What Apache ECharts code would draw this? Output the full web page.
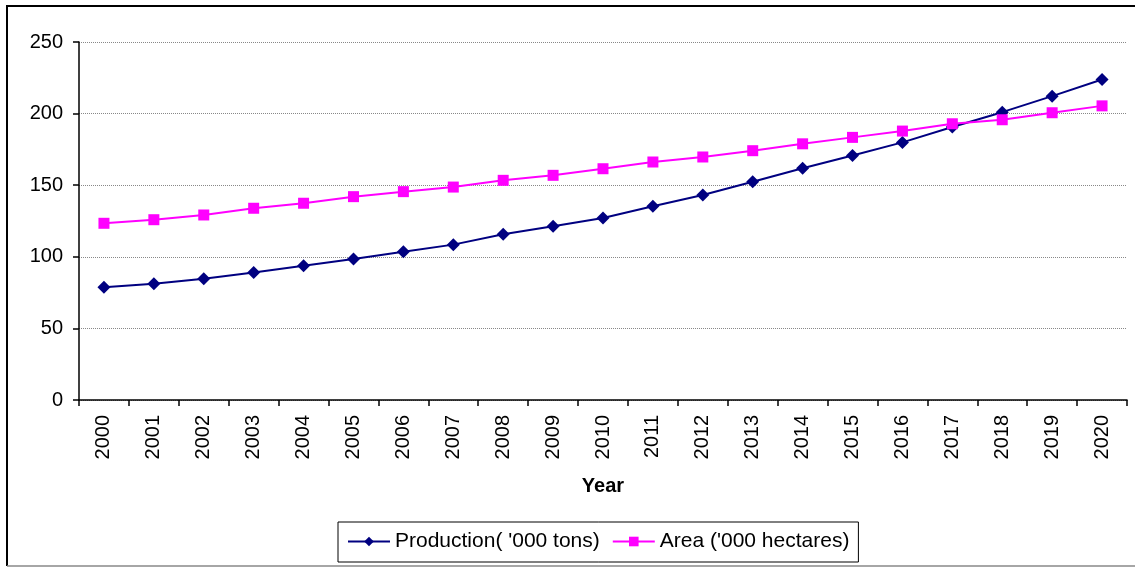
<!DOCTYPE html>
<html>
<head>
<meta charset="utf-8">
<script src="https://cdn.jsdelivr.net/npm/echarts@6/dist/echarts.min.js"></script>
<style>
  html, body { margin: 0; padding: 0; background: #fff; }
  #chart { width: 1135px; height: 567px; }
</style>
</head>
<body>
<div id="chart"></div>
<script>
const years = ['2000','2001','2002','2003','2004','2005','2006','2007','2008','2009','2010',
  '2011','2012','2013','2014','2015','2016','2017','2018','2019','2020'];
const production = [78.8, 81.1, 84.6, 89.0, 93.7, 98.5, 103.6, 108.5, 115.8, 121.3, 127.1,
  135.3, 143.2, 152.4, 161.8, 170.8, 179.9, 190.6, 201.0, 212.2, 223.8];
const area = [123.4, 125.9, 129.2, 133.9, 137.4, 142.0, 145.5, 148.7, 153.4, 156.9, 161.5,
  166.2, 169.7, 174.1, 178.9, 183.4, 187.8, 192.9, 195.7, 200.6, 205.4];

const font = 'Liberation Sans, Arial, sans-serif';
const chart = echarts.init(document.getElementById('chart'));

chart.setOption({
  backgroundColor: '#fff',
  animation: false,
  textStyle: { fontFamily: font },
  graphic: [
    // outer frame of the chart area
    { type: 'line', shape: { x1: 6, y1: 6, x2: 1135, y2: 6 }, style: { stroke: '#000', lineWidth: 2 } },
    { type: 'line', shape: { x1: 7, y1: 6, x2: 7, y2: 566 }, style: { stroke: '#000', lineWidth: 2 } },
    { type: 'line', shape: { x1: 7, y1: 566, x2: 1135, y2: 566 }, style: { stroke: '#888', lineWidth: 1.5 } }
  ],
  grid: { left: 79, right: 8, top: 42, bottom: 167 },
  legend: {
    top: 522,
    left: 338,
    padding: [9, 9, 10, 9],
    borderColor: '#000',
    borderWidth: 1,
    itemWidth: 42,
    itemHeight: 12,
    itemGap: 12,
    textStyle: { fontSize: 21, color: '#000', fontFamily: font },
    data: ["Production( '000 tons)", "Area ('000 hectares)"]
  },
  xAxis: {
    type: 'category',
    data: years,
    boundaryGap: true,
    name: 'Year',
    nameLocation: 'middle',
    nameGap: 76,
    nameTextStyle: { fontSize: 20, fontWeight: 'bold', color: '#000', fontFamily: font },
    axisLine: { lineStyle: { color: '#000', width: 1.5 } },
    axisTick: { show: true, length: 6, lineStyle: { color: '#000', width: 1.5 } },
    axisLabel: { rotate: 90, fontSize: 20, color: '#000', margin: 15, interval: 0, fontFamily: font }
  },
  yAxis: {
    type: 'value',
    min: 0,
    max: 250,
    interval: 50,
    axisLine: { show: true, lineStyle: { color: '#000', width: 1.5 } },
    axisTick: { show: true, length: 6, lineStyle: { color: '#000', width: 1.5 } },
    axisLabel: { fontSize: 20, color: '#000', margin: 16, fontFamily: font },
    splitLine: { lineStyle: { color: '#888', type: 'dotted', width: 1 } }
  },
  series: [
    {
      name: "Production( '000 tons)",
      type: 'line',
      data: production,
      symbol: 'diamond',
      symbolSize: 13,
      color: '#000080',
      lineStyle: { color: '#000080', width: 2 },
      itemStyle: { color: '#000080' }
    },
    {
      name: "Area ('000 hectares)",
      type: 'line',
      data: area,
      symbol: 'rect',
      symbolSize: 11,
      color: '#ff00ff',
      lineStyle: { color: '#ff00ff', width: 2 },
      itemStyle: { color: '#ff00ff' }
    }
  ]
});
</script>
</body>
</html>
